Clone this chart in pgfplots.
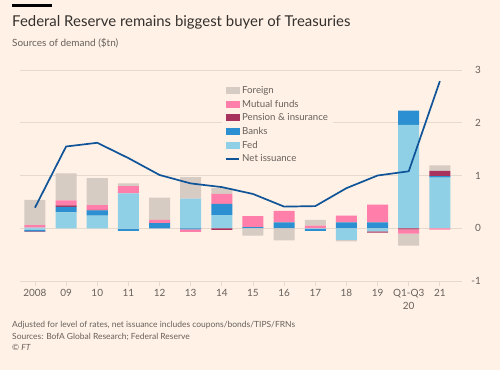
\documentclass[border=0pt]{standalone}
\usepackage{fontspec}
\setmainfont{Lato}
\usepackage{pgfplots}
\usepackage{pgfplotstable}
\pgfplotsset{compat=1.18}
\definecolor{bg}{HTML}{FFF1E5}
\definecolor{titlec}{HTML}{33302E}
\definecolor{subc}{HTML}{66605C}
\definecolor{gridc}{HTML}{E6D9CE}
\definecolor{forc}{HTML}{D7CCC3}
\definecolor{mutc}{HTML}{FF7FAA}
\definecolor{penc}{HTML}{A8325E}
\definecolor{bankc}{HTML}{2B8FD1}
\definecolor{fedc}{HTML}{90D0E6}
\definecolor{netc}{HTML}{0F5499}

\pgfplotstableread{
x fed banks pen mut for
0 0.01 0.00 0.00 0.05 0.48
1 0.30 0.105 0.03 0.095 0.51
2 0.24 0.10 0.01 0.09 0.51
3 0.66 0.00 0.00 0.14 0.05
4 0.00 0.095 0.00 0.065 0.42
5 0.56 0.00 0.00 0.00 0.41
6 0.25 0.21 0.00 0.19 0.11
7 0.00 0.02 0.00 0.21 0.00
8 0.00 0.11 0.00 0.22 0.00
9 0.00 0.00 0.00 0.05 0.11
10 0.00 0.11 0.00 0.13 0.00
11 0.00 0.11 0.00 0.34 0.00
12 1.96 0.27 0.00 0.00 0.00
13 0.96 0.03 0.10 0.00 0.10
}\pos

\pgfplotstableread{
x fed banks pen mut for
0 -0.03 -0.03 -0.01 0.00 0.00
1 0.00 0.00 0.00 0.00 0.00
2 0.00 0.00 0.00 0.00 0.00
3 -0.01 -0.04 0.00 0.00 0.00
4 0.00 0.00 0.00 0.00 0.00
5 0.00 -0.02 0.00 -0.05 0.00
6 0.00 0.00 -0.03 0.00 0.00
7 0.00 0.00 0.00 0.00 -0.14
8 0.00 0.00 0.00 0.00 -0.23
9 -0.01 -0.04 0.00 0.00 0.00
10 -0.22 0.00 0.00 0.00 -0.03
11 -0.06 0.00 -0.025 0.00 0.00
12 0.00 0.00 -0.02 -0.08 -0.23
13 0.00 0.00 0.00 -0.025 0.00
}\neg

\pgfplotstableread{
x net
0 0.39
1 1.55
2 1.62
3 1.33
4 1.01
5 0.85
6 0.78
7 0.65
8 0.41
9 0.42
10 0.76
11 1.00
12 1.08
13 2.79
}\net

\pgfplotsset{
  myaxis/.style={scale only axis, width=442bp, height=211bp,
    at={(20bp,-281bp)}, anchor=south west,
    xmin=-0.48, xmax=13.71, ymin=-1, ymax=3},
  bars/.style={ybar stacked, bar width=21bp}
}

\begin{document}
\begin{tikzpicture}
\useasboundingbox (0,0) rectangle (500bp,-370bp);
\fill[bg] (0,0) rectangle (500bp,-370bp);
\fill[black] (12bp,-3.5bp) rectangle (52bp,-6.5bp);
\node[anchor=base west, inner sep=0, text=titlec, font=\fontsize{15}{18}\selectfont] at (12bp,-26.5bp) {Federal Reserve remains biggest buyer of Treasuries};
\node[anchor=base west, inner sep=0, text=subc, font=\fontsize{10}{12}\selectfont] at (12bp,-46.5bp) {Sources of demand (\$tn)};

\begin{axis}[myaxis, bars,
  axis line style={draw=none},
  ymajorgrids, grid style={gridc, line width=0.8bp},
  xtick={0,...,13},
  xticklabels={2008,09,10,11,12,13,14,15,16,17,18,19,{Q1-Q3\\20},21},
  xticklabel style={align=center, text=subc, font=\fontsize{10}{12.5}\selectfont, inner sep=0pt, yshift=-3.5bp},
  xtick pos=bottom, tick align=outside, major tick length=5bp,
  xtick style={gridc, line width=0.8bp},
  ytick={-1,0,1,2,3}, yticklabels={-1,0,1,2,3},
  yticklabel pos=right, ytick style={draw=none},
  yticklabel style={anchor=east, inner sep=0pt, xshift=14bp, text=subc, font=\fontsize{10}{12}\selectfont},
]
\addplot[fill=fedc, draw=none] table[x=x, y=fed] {\pos};
\addplot[fill=bankc, draw=none] table[x=x, y=banks] {\pos};
\addplot[fill=penc, draw=none] table[x=x, y=pen] {\pos};
\addplot[fill=mutc, draw=none] table[x=x, y=mut] {\pos};
\addplot[fill=forc, draw=none] table[x=x, y=for] {\pos};
\end{axis}

\begin{axis}[myaxis, bars, hide axis]
\addplot[fill=fedc, draw=none] table[x=x, y=fed] {\neg};
\addplot[fill=bankc, draw=none] table[x=x, y=banks] {\neg};
\addplot[fill=penc, draw=none] table[x=x, y=pen] {\neg};
\addplot[fill=mutc, draw=none] table[x=x, y=mut] {\neg};
\addplot[fill=forc, draw=none] table[x=x, y=for] {\neg};
\end{axis}

\begin{axis}[myaxis, hide axis,
  legend cell align=left,
  legend style={at={(0.457,0.947)}, anchor=north west, draw=none, fill=bg,
    font=\fontsize{9.7}{11}\selectfont, text=subc, inner xsep=3bp, inner ysep=2bp, row sep=0pt,
    nodes={inner ysep=1.7bp, text height=8.3bp, text depth=2bp},
    /tikz/every even column/.append style={column sep=3bp}},
]
\addlegendimage{legend image code/.code={\fill[forc] (0bp,-3bp) rectangle (13bp,3bp);}}
\addlegendentry{Foreign}
\addlegendimage{legend image code/.code={\fill[mutc] (0bp,-3bp) rectangle (13bp,3bp);}}
\addlegendentry{Mutual funds}
\addlegendimage{legend image code/.code={\fill[penc] (0bp,-3bp) rectangle (13bp,3bp);}}
\addlegendentry{Pension \& insurance}
\addlegendimage{legend image code/.code={\fill[bankc] (0bp,-3bp) rectangle (13bp,3bp);}}
\addlegendentry{Banks}
\addlegendimage{legend image code/.code={\fill[fedc] (0bp,-3bp) rectangle (13bp,3bp);}}
\addlegendentry{Fed}
\addplot[netc, line width=1.7bp, mark=none,
  legend image code/.code={\draw[netc, line width=2bp] (0bp,0bp) -- (13bp,0bp);}] table[x=x, y=net] {\net};
\addlegendentry{Net issuance}
\end{axis}

\node[anchor=base west, inner sep=0, text=subc, font=\fontsize{8.5}{10}\selectfont] at (12bp,-327.3bp) {Adjusted for level of rates, net issuance includes coupons/bonds/TIPS/FRNs};
\node[anchor=base west, inner sep=0, text=subc, font=\fontsize{8.5}{10}\selectfont] at (12bp,-339.7bp) {Sources: BofA Global Research; Federal Reserve};
\node[anchor=base west, inner sep=0, text=subc, font=\fontsize{8.5}{10}\selectfont] at (12bp,-350.5bp) {\copyright\ \textit{FT}};
\end{tikzpicture}
\end{document}
